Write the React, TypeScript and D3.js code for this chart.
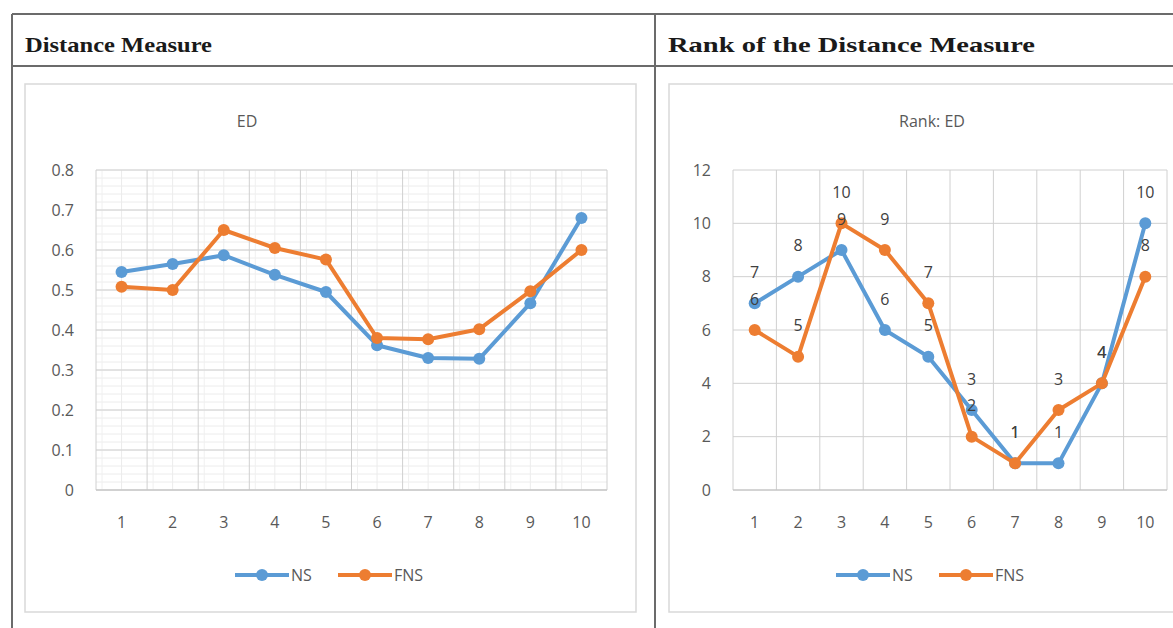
import React from "react";
import * as d3 from "d3";

const categories = ["1", "2", "3", "4", "5", "6", "7", "8", "9", "10"];
const edNS = [0.545, 0.565, 0.587, 0.538, 0.495, 0.362, 0.33, 0.328, 0.467, 0.68];
const edFNS = [0.508, 0.5, 0.65, 0.605, 0.576, 0.38, 0.377, 0.402, 0.497, 0.6];
const rankNS = [7, 8, 9, 6, 5, 3, 1, 1, 4, 10];
const rankFNS = [6, 5, 10, 9, 7, 2, 1, 3, 4, 8];
const edTicks = [0, 0.1, 0.2, 0.3, 0.4, 0.5, 0.6, 0.7, 0.8];
const rankTicks = [0, 2, 4, 6, 8, 10, 12];
const seriesNames = ["NS", "FNS"];

const BLUE = "#5B9BD5";
const ORANGE = "#ED7D31";
const TXT = "#595959";
const FONT = "'Open Sans', 'Noto Sans', sans-serif";

type ChartProps = {
  box: [number, number, number, number];
  plot: [number, number, number, number];
  title: string;
  titleX: number;
  ticks: number[];
  yMax: number;
  ns: number[];
  fns: number[];
  minor: boolean;
  labels: boolean;
  legendX: number;
};

function Chart(p: ChartProps) {
  const [px0, py0, px1, py1] = p.plot;
  const x = d3.scaleBand<string>().domain(categories).range([px0, px1]).padding(0);
  const y = d3.scaleLinear().domain([0, p.yMax]).range([py1, py0]);
  const cx = (c: string) => (x(c) as number) + x.bandwidth() / 2;
  const line = d3
    .line<number>()
    .x((_, i) => cx(categories[i]))
    .y((v) => y(v));
  const minorY = p.minor ? d3.range(0, p.yMax + 1e-9, p.yMax / 40) : [];
  const fmt = (v: number) => (p.yMax < 2 ? (v === 0 ? "0" : d3.format(".1f")(v)) : String(v));
  const boundaries = categories.map((c) => x(c) as number).concat([px1]);
  const series = [
    { name: seriesNames[0], data: p.ns, color: BLUE },
    { name: seriesNames[1], data: p.fns, color: ORANGE },
  ];
  const ly = 575;
  const legendItems = [
    { name: seriesNames[0], color: BLUE, x: p.legendX },
    { name: seriesNames[1], color: ORANGE, x: p.legendX + 103 },
  ];
  return (
    <g>
      <rect
        x={p.box[0]}
        y={p.box[1]}
        width={p.box[2] - p.box[0]}
        height={p.box[3] - p.box[1]}
        fill="#fff"
        stroke="#d9d9d9"
        strokeWidth={1.5}
      />
      <text x={p.titleX} y={121} dy="0.35em" textAnchor="middle" fontFamily={FONT} fontSize={16} fill={TXT}>
        {p.title}
      </text>
      {minorY.map((v, i) => (
        <line key={"my" + i} x1={px0} x2={px1} y1={y(v)} y2={y(v)} stroke="#ececec" strokeWidth={1} />
      ))}
      {p.minor &&
        categories.map((c, i) => (
          <g key={"mx" + i}>
            <line x1={cx(c)} x2={cx(c)} y1={py0} y2={py1} stroke="#ececec" />
            <line x1={(x(c) as number) + 6} x2={(x(c) as number) + 6} y1={py0} y2={py1} stroke="#f0f0f0" />
          </g>
        ))}
      {p.ticks.map((t) => (
        <line key={"gy" + t} x1={px0} x2={px1} y1={y(t)} y2={y(t)} stroke="#d0d0d0" strokeWidth={1} />
      ))}
      {boundaries.map((b, i) => (
        <line key={"gx" + i} x1={b} x2={b} y1={py0} y2={py1} stroke="#d0d0d0" strokeWidth={1} />
      ))}
      <line x1={px0} x2={px1} y1={py1} y2={py1} stroke="#bfbfbf" strokeWidth={1.2} />
      {p.ticks.map((t) => (
        <text
          key={"ty" + t}
          x={p.plot[0] - 22}
          y={y(t)}
          dy="0.35em"
          textAnchor="end"
          fontFamily={FONT}
          fontSize={16}
          fill={TXT}
        >
          {fmt(t)}
        </text>
      ))}
      {categories.map((c) => (
        <text key={"tx" + c} x={cx(c)} y={522} dy="0.35em" textAnchor="middle" fontFamily={FONT} fontSize={16} fill={TXT}>
          {c}
        </text>
      ))}
      {series.map((s) => (
        <g key={s.name}>
          <path d={line(s.data) as string} fill="none" stroke={s.color} strokeWidth={4} strokeLinejoin="round" />
          {s.data.map((v, i) => (
            <circle key={i} cx={cx(categories[i])} cy={y(v)} r={6} fill={s.color} />
          ))}
        </g>
      ))}
      {p.labels &&
        series.map((s) =>
          s.data.map((v, i) => (
            <text
              key={s.name + "l" + i}
              x={cx(categories[i])}
              y={y(v) - 31}
              dy="0.35em"
              textAnchor="middle"
              fontFamily={FONT}
              fontSize={16}
              fill="#404040"
            >
              {v}
            </text>
          ))
        )}
      {legendItems.map((it) => (
        <g key={"lg" + it.name}>
          <line x1={it.x} x2={it.x + 54} y1={ly} y2={ly} stroke={it.color} strokeWidth={4} />
          <circle cx={it.x + 27} cy={ly} r={6} fill={it.color} />
          <text x={it.x + 56} y={ly} dy="0.35em" fontFamily={FONT} fontSize={16} fill={TXT}>
            {it.name}
          </text>
        </g>
      ))}
    </g>
  );
}

export default function App() {
  return (
    <svg
      width={1173}
      height={628}
      style={{ position: "absolute", left: 0, top: 0, background: "#fff" }}
    >
      <rect x={0} y={0} width={1173} height={628} fill="#fff" />
      <line x1={12} x2={1180} y1={14} y2={14} stroke="#6b6b6b" strokeWidth={2} />
      <line x1={12} x2={1180} y1={66} y2={66} stroke="#6b6b6b" strokeWidth={2} />
      <line x1={12} x2={12} y1={14} y2={640} stroke="#6b6b6b" strokeWidth={2} />
      <line x1={655} x2={655} y1={14} y2={640} stroke="#6b6b6b" strokeWidth={2} />
      <text
        x={25}
        y={52}
        fontFamily="'Liberation Serif', serif"
        fontWeight="bold"
        fontSize={22}
        fill="#1a1a1a"
        textLength={187}
        lengthAdjust="spacingAndGlyphs"
      >
        Distance Measure
      </text>
      <text
        x={668}
        y={52}
        fontFamily="'Liberation Serif', serif"
        fontWeight="bold"
        fontSize={22}
        fill="#1a1a1a"
        textLength={367}
        lengthAdjust="spacingAndGlyphs"
      >
        Rank of the Distance Measure
      </text>
      <Chart
        box={[25, 84, 636, 612]}
        plot={[96, 170, 607, 490]}
        title="ED"
        titleX={247}
        ticks={edTicks}
        yMax={0.8}
        ns={edNS}
        fns={edFNS}
        minor={true}
        labels={false}
        legendX={235}
      />
      <Chart
        box={[669, 84, 1195, 612]}
        plot={[733, 170, 1167, 490]}
        title="Rank: ED"
        titleX={932}
        ticks={rankTicks}
        yMax={12}
        ns={rankNS}
        fns={rankFNS}
        minor={false}
        labels={true}
        legendX={836}
      />
    </svg>
  );
}
